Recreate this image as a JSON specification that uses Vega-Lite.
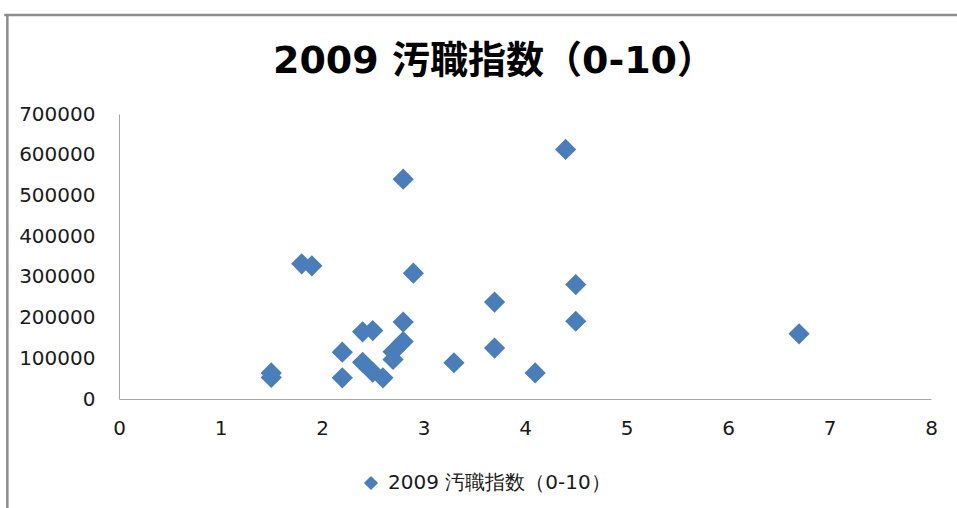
{
  "$schema": "https://vega.github.io/schema/vega-lite/v6.json",
  "width": 812,
  "height": 285,
  "autosize": {"type": "none"},
  "padding": {"left": 119, "top": 114, "right": 26, "bottom": 109},
  "background": "white",
  "title": {
    "text": "2009 汚職指数（0-10）",
    "font": "DejaVu Sans, Noto Sans CJK JP",
    "fontSize": 38,
    "fontWeight": "bold",
    "color": "#000000",
    "anchor": "middle",
    "baseline": "alphabetic",
    "dx": -31,
    "offset": -97
  },
  "config": {
    "view": {"stroke": null},
    "axis": {
      "grid": false,
      "ticks": false,
      "domainColor": "#a6a6a6",
      "domainWidth": 1,
      "labelFont": "DejaVu Sans",
      "labelFontSize": 20,
      "labelColor": "#1a1a1a",
      "title": null
    }
  },
  "datasets": {
    "points": [
      {"index": 1.5, "value": 64000, "series": "2009 汚職指数（0-10）"},
      {"index": 1.5, "value": 53000, "series": "2009 汚職指数（0-10）"},
      {"index": 1.8, "value": 332000, "series": "2009 汚職指数（0-10）"},
      {"index": 1.9, "value": 327000, "series": "2009 汚職指数（0-10）"},
      {"index": 2.2, "value": 115000, "series": "2009 汚職指数（0-10）"},
      {"index": 2.2, "value": 52000, "series": "2009 汚職指数（0-10）"},
      {"index": 2.4, "value": 165000, "series": "2009 汚職指数（0-10）"},
      {"index": 2.5, "value": 168000, "series": "2009 汚職指数（0-10）"},
      {"index": 2.4, "value": 90000, "series": "2009 汚職指数（0-10）"},
      {"index": 2.5, "value": 66000, "series": "2009 汚職指数（0-10）"},
      {"index": 2.6, "value": 52000, "series": "2009 汚職指数（0-10）"},
      {"index": 2.7, "value": 97000, "series": "2009 汚職指数（0-10）"},
      {"index": 2.7, "value": 116000, "series": "2009 汚職指数（0-10）"},
      {"index": 2.8, "value": 141000, "series": "2009 汚職指数（0-10）"},
      {"index": 2.8, "value": 189000, "series": "2009 汚職指数（0-10）"},
      {"index": 2.8, "value": 540000, "series": "2009 汚職指数（0-10）"},
      {"index": 2.9, "value": 309000, "series": "2009 汚職指数（0-10）"},
      {"index": 3.3, "value": 89000, "series": "2009 汚職指数（0-10）"},
      {"index": 3.7, "value": 238000, "series": "2009 汚職指数（0-10）"},
      {"index": 3.7, "value": 125000, "series": "2009 汚職指数（0-10）"},
      {"index": 4.1, "value": 64000, "series": "2009 汚職指数（0-10）"},
      {"index": 4.4, "value": 613000, "series": "2009 汚職指数（0-10）"},
      {"index": 4.5, "value": 281000, "series": "2009 汚職指数（0-10）"},
      {"index": 4.5, "value": 191000, "series": "2009 汚職指数（0-10）"},
      {"index": 6.7, "value": 160000, "series": "2009 汚職指数（0-10）"}
    ],
    "frame": [
      {"x": -1.1, "x2": -1.1, "y": 943000, "y2": -268000},
      {"x": -1.13, "x2": 8.3, "y": 943000, "y2": 943000}
    ]
  },
  "layer": [
    {
      "data": {"name": "frame"},
      "mark": {"type": "rule", "color": "#8c8c8c", "strokeWidth": 2.5, "clip": false},
      "encoding": {
        "x": {"field": "x", "type": "quantitative", "scale": {"domain": [0, 8]}},
        "x2": {"field": "x2"},
        "y": {"field": "y", "type": "quantitative", "scale": {"domain": [0, 700000]}},
        "y2": {"field": "y2"}
      }
    },
    {
      "data": {"name": "points"},
      "mark": {"type": "point", "shape": "diamond", "filled": true, "size": 450, "opacity": 1, "strokeWidth": 0},
      "encoding": {
        "x": {
          "field": "index",
          "type": "quantitative",
          "scale": {"domain": [0, 8], "nice": false, "zero": true},
          "axis": {"values": [0, 1, 2, 3, 4, 5, 6, 7, 8], "labelPadding": 19, "format": "d", "labelFlush": false}
        },
        "y": {
          "field": "value",
          "type": "quantitative",
          "scale": {"domain": [0, 700000], "nice": false},
          "axis": {"values": [0, 100000, 200000, 300000, 400000, 500000, 600000, 700000], "labelPadding": 24, "format": "d"}
        },
        "color": {
          "field": "series",
          "type": "nominal",
          "scale": {"range": ["#4A7EBB"]},
          "legend": {
            "title": null,
            "orient": "none",
            "legendX": 242,
            "legendY": 359,
            "symbolType": "diamond",
            "symbolSize": 200,
            "symbolStrokeWidth": 0,
            "labelFont": "DejaVu Sans",
            "labelFontSize": 20,
            "labelColor": "#1a1a1a",
            "labelOffset": 7,
            "labelLimit": 400
          }
        }
      }
    }
  ]
}
